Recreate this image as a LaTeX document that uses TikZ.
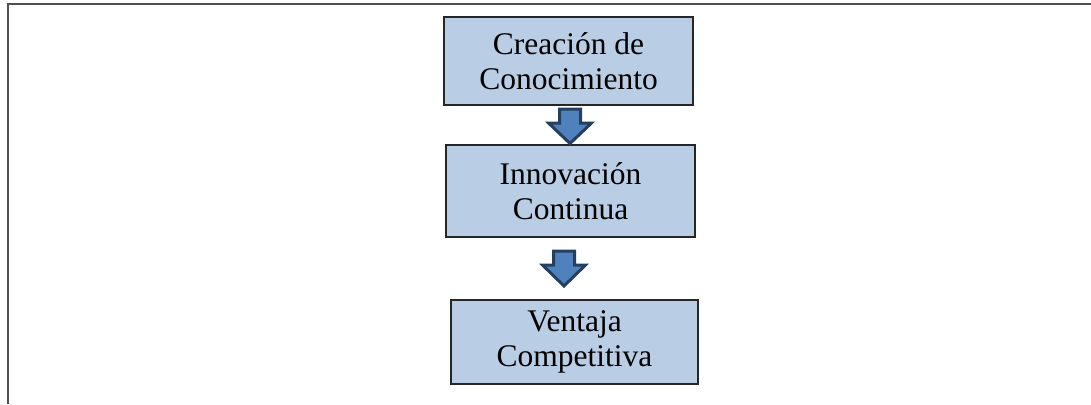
\documentclass[tikz,border=0pt]{standalone}
\usepackage{fontspec}
\setmainfont{Liberation Serif}
\definecolor{boxfill}{HTML}{B9CDE5}
\definecolor{arrfill}{HTML}{4F81BD}
\definecolor{arrline}{HTML}{243F60}
\definecolor{framec}{HTML}{505050}
\tikzset{
  stagebox/.style={draw=black!85, line width=1.2pt, fill=boxfill, align=center,
    inner sep=0pt, font=\fontsize{31.5}{35}\selectfont},
  blockarr/.style={fill=arrfill, draw=arrline, line width=3pt, line join=miter},
  framel/.style={draw=framec, line width=1.5pt}
}
\begin{document}
\begin{tikzpicture}[x=1pt,y=-1pt]
\useasboundingbox (0,0) rectangle (1091,404);
% frame
\coordinate (fl) at (8,404);
\coordinate (ftl) at (8,4);
\coordinate (ftr) at (1091,4);
\draw[framel] (fl) -- (ftl) -- (ftr);
% boxes
\node[stagebox, minimum width=249pt, minimum height=88pt] (b1) at (568.5,61) {Creación de\\Conocimiento};
\node[stagebox, minimum width=249pt, minimum height=92pt] (b2) at (570.5,191) {Innovación\\Continua};
\node[stagebox, minimum width=247pt, minimum height=84pt] (b3) at (574.5,342) {Ventaja\\Competitiva};
% block arrows
\draw[blockarr] (559.5,109) -- (580.5,109) -- (580.5,123) -- (591.5,123) -- (570,143.5) -- (548.5,123) -- (559.5,123) -- cycle;
\draw[blockarr] (553.5,251) -- (574.5,251) -- (574.5,265) -- (585.5,265) -- (564,286) -- (542.5,265) -- (553.5,265) -- cycle;
\end{tikzpicture}
\end{document}
